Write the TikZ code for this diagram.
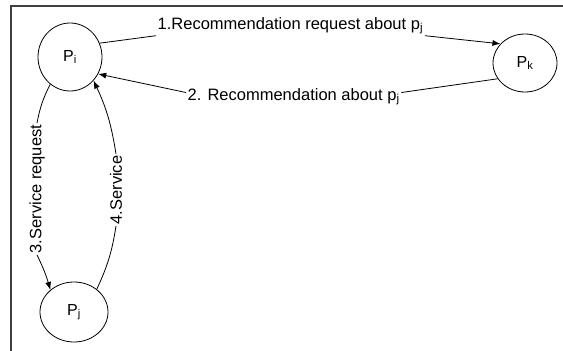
\documentclass[tikz,border=0pt]{standalone}
\usepackage{fontspec}
\setmainfont{Liberation Sans}
\usetikzlibrary{shapes.geometric,arrows.meta}
\tikzset{
  peer/.style={ellipse,draw,line width=0.8pt,inner sep=0pt,font=\fontsize{16}{18}\selectfont},
  lbl/.style={inner sep=1.5pt,font=\fontsize{16.5}{18}\selectfont},
  conn/.style={line width=0.8pt},
  arr/.style={conn,-{Latex[length=8pt,width=6pt]}},
  frame/.style={line width=1.2pt,draw=black!75}
}
\begin{document}
\begin{tikzpicture}[x=1pt,y=-1pt]
\useasboundingbox (0,0) rectangle (563,351);
\draw[frame] (11,351) -- (11,6) -- (563,6);
% peers
\node[peer,minimum width=64pt,minimum height=68pt] (pi) at (70,57) {P\textsubscript{i}};
\node[peer,minimum width=64pt,minimum height=58pt] (pk) at (525,63) {P\textsubscript{k}};
\node[peer,minimum width=68pt,minimum height=60pt] (pj) at (74,312) {P\textsubscript{j}};
% labels
\node[lbl,anchor=base west] (l1) at (156,29) {1.Recommendation request about p\textsubscript{j}};
\node[lbl,anchor=base west] (l2) at (186,100) {2. Recommendation about p\textsubscript{j}};
\node[lbl,rotate=90] (l3) at (37,189) {3.Service request};
\node[lbl,rotate=90] (l4) at (116,190) {4.Service};
% connectors
\draw[conn] (pi.25) -- (l1.south west);
\draw[arr] (l1.south east) -- (pk.142);
\draw[conn] (pk.210) -- ([yshift=4pt]l2.east);
\draw[arr] ([yshift=4pt]l2.west) -- (pi.-31);
\draw[conn] (pi.234) to[bend right=8] (l3.east);
\draw[arr] (l3.west) to[bend left=5] (pj.137);
\draw[conn] (pj.45) to[bend right=8] (l4.west);
\draw[arr] (l4.east) to[bend right=8] (pi.-45);
\end{tikzpicture}
\end{document}
